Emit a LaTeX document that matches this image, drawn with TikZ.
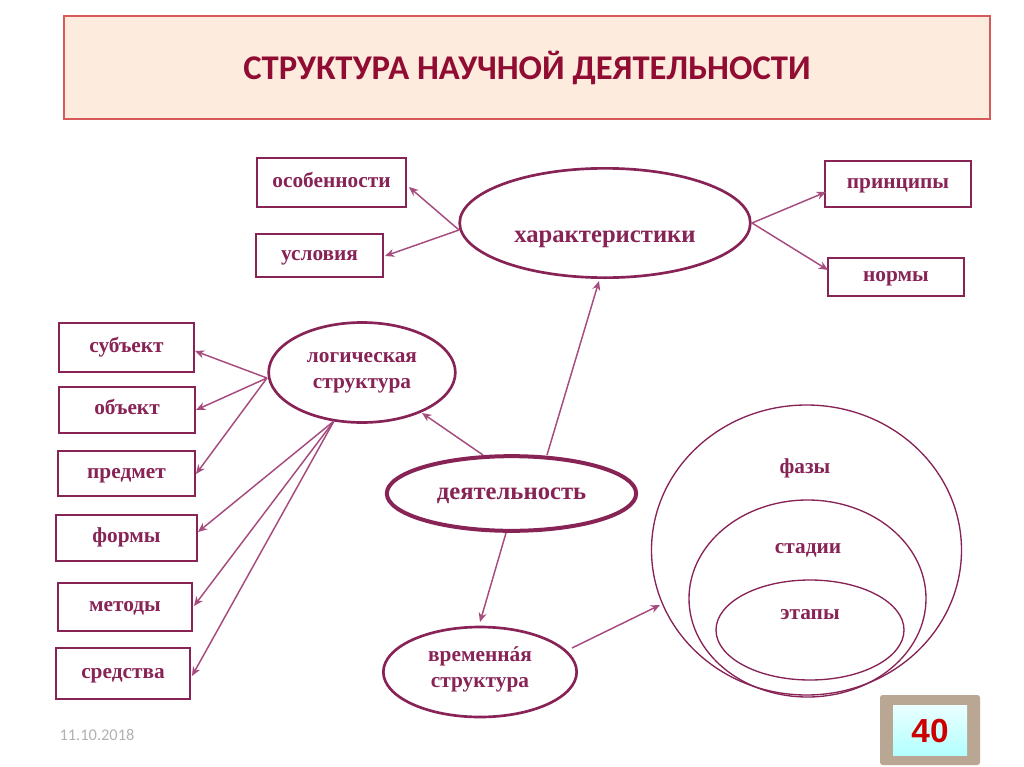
\documentclass[tikz,border=0pt]{standalone}
\usepackage{fontspec}
\setmainfont{Liberation Serif}
\newfontfamily\titlefont{Carlito}
\newfontfamily\numfont{Liberation Sans}
\usetikzlibrary{arrows.meta,shapes.geometric,shadows}
\definecolor{plum}{RGB}{135,35,85}
\definecolor{arrowc}{RGB}{165,75,125}
\definecolor{titlec}{RGB}{145,12,50}
\definecolor{peach}{RGB}{253,235,222}
\definecolor{titleborder}{RGB}{215,90,90}
\newcommand\accA{\ooalign{а\cr\hidewidth\kern0.08em\raisebox{0.05ex}{\char"00B4}\hidewidth\cr}}
\tikzset{
  lbl/.style={draw=plum, line width=1.1pt, rectangle, text=plum, text height=9.6pt, text depth=2.3pt, font=\bfseries\fontsize{16}{19}\selectfont},
  ell/.style={draw=plum, line width=2pt, ellipse, inner sep=0pt, text=plum, font=\bfseries\fontsize{16}{19.5}\selectfont, align=center},
  ring/.style={draw=plum, line width=1pt, ellipse},
  ringtxt/.style={text=plum, font=\bfseries\fontsize{16}{19}\selectfont},
  arr/.style={draw=arrowc, line width=1.1pt, -{Stealth[length=7pt,width=6pt,open]}},
}
\begin{document}
\begin{tikzpicture}[x=0.75pt,y=-0.75pt]
\useasboundingbox (0,0) rectangle (1024,767);
\fill[white] (0,0) rectangle (1024,767);
% title
\node[draw=titleborder, fill=peach, line width=1pt, minimum width=694.5pt, minimum height=77.25pt, text=titlec, font=\titlefont\bfseries\fontsize{26}{30}\selectfont] (title) at (527,67.5) {СТРУКТУРА НАУЧНОЙ ДЕЯТЕЛЬНОСТИ};
% rectangles
\node[lbl, minimum width=111.75pt, minimum height=36.75pt] (osob) at (331.5,182.5) {особенности};
\node[lbl, minimum width=95.25pt, minimum height=32.25pt] (usl) at (319.5,255.5) {условия};
\node[lbl, minimum width=109.5pt, minimum height=34.5pt] (princ) at (898,184) {принципы};
\node[lbl, minimum width=102pt, minimum height=28.5pt] (norm) at (896,277) {нормы};
\node[lbl, minimum width=101.25pt, minimum height=36.75pt] (subj) at (126.5,347.5) {субъект};
\node[lbl, minimum width=102pt, minimum height=34.5pt] (obj) at (127,410) {объект};
\node[lbl, minimum width=102.75pt, minimum height=33.75pt] (pred) at (126.5,473.5) {предмет};
\node[lbl, minimum width=105.75pt, minimum height=34.5pt] (form) at (126.5,538) {формы};
\node[lbl, minimum width=100.5pt, minimum height=36pt] (met) at (125,607) {методы};
\node[lbl, minimum width=100.5pt, minimum height=38.25pt] (sred) at (123,673.5) {средства};
% ellipses
\node[ell, minimum width=218pt, minimum height=82pt, text height=28.5pt, text depth=0pt, font=\bfseries\fontsize{18.5}{21}\selectfont] (har) at (605,223) {характеристики};
\node[ell, minimum width=140pt, minimum height=75pt] (log) at (362,372.5) {логическая\\структура};
\node[ell, line width=3pt, minimum width=187pt, minimum height=56pt, text height=9pt, text depth=0.75pt, font=\bfseries\fontsize{18.5}{21}\selectfont] (deyat) at (511.5,493.5) {деятельность};
\node[ell, minimum width=145pt, minimum height=67.5pt] (vrem) at (480,672) {временн\accA я\\структура};
% nested rings
\node[ring, minimum width=232.5pt, minimum height=217.5pt] (faz) at (806.5,550) {};
\node[ring, minimum width=177.75pt, minimum height=147.75pt] (stad) at (807.5,598.5) {};
\node[ring, minimum width=141pt, minimum height=75pt] (etap) at (810,630) {};
\node[ringtxt] (fazt) at (805,468) {фазы};
\node[ringtxt] (stadt) at (808,550) {стадии};
\node[ringtxt] (etapt) at (810,615) {этапы};
% arrow end points on the shapes
\coordinate (harL) at (459,230);
\coordinate (harR) at (752,223);
\coordinate (logL) at (267,378);
\coordinate (logB) at (334,421);
\coordinate (deyA) at (483,455);
\coordinate (deyB) at (547,455);
\coordinate (deyC) at (506,533);
\coordinate (vremR) at (572,648);
\coordinate (osobE) at (409,187);
\coordinate (uslE) at (385,256);
\coordinate (princE) at (826,192);
\coordinate (normE) at (828,270);
\coordinate (subjE) at (195,351);
\coordinate (objE) at (196,410);
\coordinate (predE) at (196,474);
\coordinate (formE) at (198,532);
\coordinate (metE) at (194,606);
\coordinate (sredE) at (192,676);
\coordinate (logE) at (422,413);
\coordinate (harE) at (599,281);
\coordinate (vremE) at (480,622);
\coordinate (fazE) at (660,605);
\draw[arr] (harL) -- (osobE);
\draw[arr] (harL) -- (uslE);
\draw[arr] (harR) -- (princE);
\draw[arr] (harR) -- (normE);
\draw[arr] (logL) -- (subjE);
\draw[arr] (logL) -- (objE);
\draw[arr] (logL) -- (predE);
\draw[arr] (logB) -- (formE);
\draw[arr] (logB) -- (metE);
\draw[arr] (logB) -- (sredE);
\draw[arr] (deyA) -- (logE);
\draw[arr] (deyB) -- (harE);
\draw[arr] (deyC) -- (vremE);
\draw[arr] (vremR) -- (fazE);
% footer
\node[text=gray!60, font=\titlefont\fontsize{12.3}{14}\selectfont] (date) at (97,735) {11.10.2018};
\fill[black!40!brown!50!white, rounded corners=2pt] (880,695) rectangle (980,765);
\shade[top color=cyan!8, bottom color=cyan!30] (893,705) rectangle (967,755);
\node[text=red!80!black, font=\numfont\bfseries\fontsize{25}{27}\selectfont] (num) at (930,731) {40};
\end{tikzpicture}
\end{document}
